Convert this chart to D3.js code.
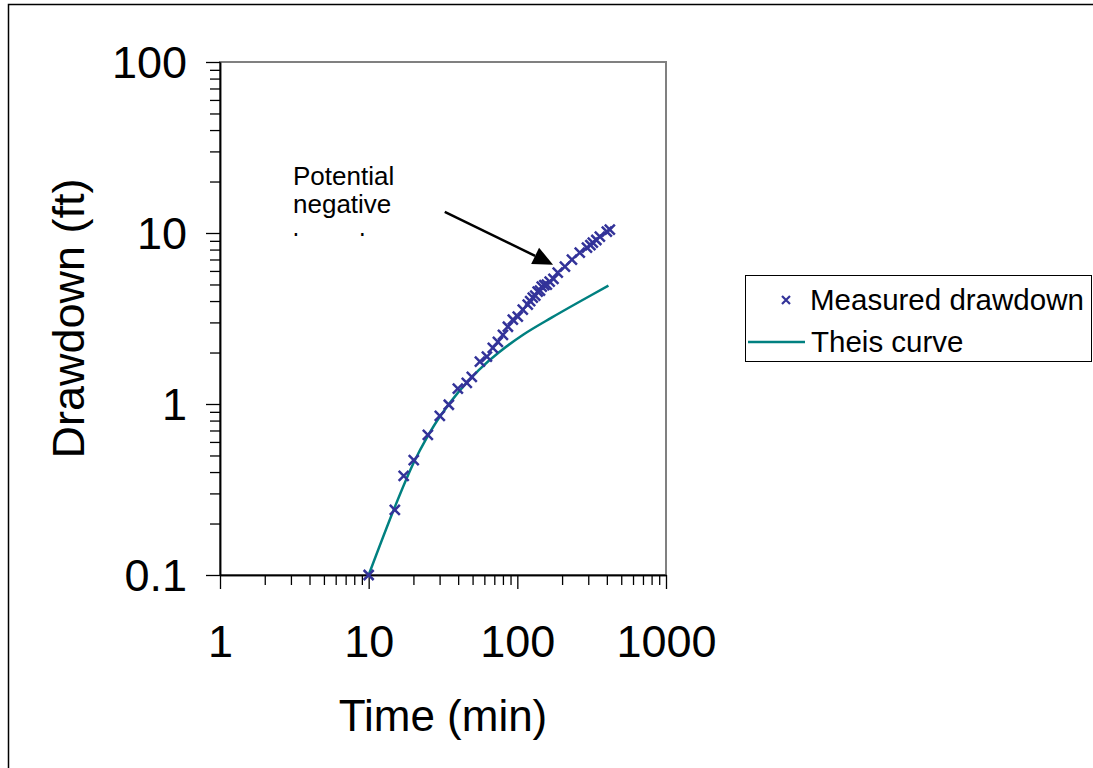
<!DOCTYPE html>
<html>
<head>
<meta charset="utf-8">
<script src="https://cdn.jsdelivr.net/npm/d3@7"></script>
<style>
  html, body { margin: 0; padding: 0; background: #fff; }
  svg { display: block; font-family: "Liberation Sans", Arial, Helvetica, sans-serif; }
</style>
</head>
<body>
<svg id="chart" width="1093" height="768"></svg>
<script>
// ---- Data ----
const measuredTime = [10, 15, 17.2, 20.1, 25, 30.1, 34.6, 39.8, 45.7, 49.4, 56, 62.4, 68.4, 74, 80, 86.4, 93.3, 100.7, 108.8, 117.5, 122, 127, 132, 137, 142, 146, 152, 158, 165, 175, 187, 209, 233, 263, 294, 310, 322, 340, 359, 400, 419];
const measuredDrawdown = [0.1, 0.24, 0.38, 0.47, 0.66, 0.853, 0.99, 1.23, 1.33, 1.44, 1.77, 1.89, 2.13, 2.31, 2.54, 2.83, 3.11, 3.24, 3.56, 3.81, 4.0, 4.19, 4.3, 4.54, 4.6, 4.86, 4.95, 4.99, 5.19, 5.4, 5.86, 6.35, 6.98, 7.67, 8.22, 8.5, 8.79, 9.1, 9.53, 10.2, 10.45];
const theisTime = [10, 15, 20, 25, 30, 40, 55, 75, 110, 170, 260, 410];
const theisDrawdown = [0.1, 0.25, 0.45, 0.65, 0.84, 1.17, 1.58, 2.0, 2.55, 3.2, 3.95, 4.92];
const xMajorTicks = [1, 10, 100, 1000];
const yMajorTicks = [0.1, 1, 10, 100];
const xTickLabels = ["1", "10", "100", "1000"];
const yTickLabels = ["0.1", "1", "10", "100"];
const seriesNames = ["Measured drawdown", "Theis curve"];
const annotationLines = ["Potential", "negative", "boundary"];

// ---- Setup ----
const svg = d3.select("#chart");
const W = 1093, H = 768;
const plot = { left: 220, right: 666, top: 62, bottom: 575 };
const markerColor = "#333399";
const curveColor = "#008080";
const font = '"Liberation Sans", Arial, Helvetica, sans-serif';

svg.append("rect").attr("width", W).attr("height", H).attr("fill", "#fff");
// outer chart border (continues past the visible window)
svg.append("rect").attr("x", 8.5).attr("y", 4.5).attr("width", 1300).attr("height", 1000)
  .attr("fill", "none").attr("stroke", "#000").attr("stroke-width", 1.5);

const x = d3.scaleLog().domain([1, 1000]).range([plot.left, plot.right]);
const y = d3.scaleLog().domain([0.1, 100]).range([plot.bottom, plot.top]);

// plot area border (grey)
svg.append("rect")
  .attr("x", plot.left).attr("y", plot.top)
  .attr("width", plot.right - plot.left).attr("height", plot.bottom - plot.top)
  .attr("fill", "none").attr("stroke", "#808080").attr("stroke-width", 2);

// minor tick values
const xMinor = [], yMinor = [];
for (const d of [1, 10, 100]) for (let k = 2; k <= 9; k++) xMinor.push(d * k);
for (const d of [0.1, 1, 10]) for (let k = 2; k <= 9; k++) yMinor.push(d * k);

// ---- X axis ----
const xMinorAxis = d3.axisBottom(x).tickValues(xMinor).tickSize(10).tickSizeOuter(0).tickFormat("");
const gxm = svg.append("g").attr("transform", `translate(0,${plot.bottom})`).call(xMinorAxis);
const xMajorAxis = d3.axisBottom(x).tickValues(xMajorTicks).tickSize(14).tickSizeOuter(0)
  .tickPadding(36).tickFormat((d, i) => xTickLabels[i]);
const gx = svg.append("g").attr("transform", `translate(0,${plot.bottom})`).call(xMajorAxis);
[gxm, gx].forEach(g => {
  g.selectAll(".domain").attr("stroke", "#000").attr("stroke-width", 1.5);
  g.selectAll(".tick line").attr("stroke", "#000").attr("stroke-width", 1.3);
});
gx.selectAll("text").attr("font-size", 45).attr("font-family", font).attr("fill", "#000");

// ---- Y axis ----
const yMinorAxis = d3.axisLeft(y).tickValues(yMinor).tickSize(10).tickSizeOuter(0).tickFormat("");
const gym = svg.append("g").attr("transform", `translate(${plot.left},0)`).call(yMinorAxis);
const yMajorAxis = d3.axisLeft(y).tickValues(yMajorTicks).tickSize(14).tickSizeOuter(0)
  .tickPadding(19).tickFormat((d, i) => yTickLabels[i]);
const gy = svg.append("g").attr("transform", `translate(${plot.left},0)`).call(yMajorAxis);
[gym, gy].forEach(g => {
  g.selectAll(".domain").attr("stroke", "#000").attr("stroke-width", 1.5);
  g.selectAll(".tick line").attr("stroke", "#000").attr("stroke-width", 1.3);
});
gy.selectAll("text").attr("font-size", 45).attr("font-family", font).attr("fill", "#000").attr("dy", "0.34em");

// ---- Axis titles ----
svg.append("text")
  .attr("x", (plot.left + plot.right) / 2).attr("y", 731)
  .attr("text-anchor", "middle").attr("font-size", 44).attr("font-family", font)
  .text("Time (min)");
svg.append("text")
  .attr("transform", `translate(84,${(plot.top + plot.bottom) / 2}) rotate(-90)`)
  .attr("text-anchor", "middle").attr("font-size", 45).attr("font-family", font)
  .text("Drawdown (ft)");

// ---- Theis curve ----
const theis = theisTime.map((t, i) => [t, theisDrawdown[i]]);
svg.append("path")
  .datum(theis)
  .attr("fill", "none").attr("stroke", curveColor).attr("stroke-width", 2.5)
  .attr("d", d3.line().x(d => x(d[0])).y(d => y(d[1])).curve(d3.curveCatmullRom.alpha(0.5)));

// ---- Measured markers ----
const cross = (s) => `M${-s},${-s}L${s},${s}M${-s},${s}L${s},${-s}`;
const measured = measuredTime.map((t, i) => [t, measuredDrawdown[i]]);
svg.append("g").selectAll("path.m")
  .data(measured).join("path")
  .attr("class", "m")
  .attr("transform", d => `translate(${x(d[0])},${y(d[1])})`)
  .attr("d", cross(5))
  .attr("fill", "none").attr("stroke", markerColor).attr("stroke-width", 2.5);

// ---- Annotation ----
svg.append("defs").append("clipPath").attr("id", "annClip")
  .append("rect").attr("x", 0).attr("y", 0).attr("width", W).attr("height", 236);
const ann = svg.append("g").attr("clip-path", "url(#annClip)");
const annX = 293;
const annBaselines = [185, 213, 252];
annotationLines.forEach((txt, i) => {
  ann.append("text").attr("x", annX).attr("y", annBaselines[i])
    .attr("font-size", 26).attr("font-family", font).attr("fill", "#000").text(txt);
});

// arrow (positioned in data space)
const arrowFrom = [32.5, 13.3], arrowTo = [174, 6.53];
const ax0 = x(arrowFrom[0]), ay0 = y(arrowFrom[1]);
const ax1 = x(arrowTo[0]), ay1 = y(arrowTo[1]);
const ang = Math.atan2(ay1 - ay0, ax1 - ax0);
const headLen = 20, headW = 9;
const bx = ax1 - headLen * Math.cos(ang), by = ay1 - headLen * Math.sin(ang);
svg.append("line").attr("x1", ax0).attr("y1", ay0).attr("x2", bx).attr("y2", by)
  .attr("stroke", "#000").attr("stroke-width", 2.5);
svg.append("path")
  .attr("d", `M${ax1},${ay1}L${bx + headW * Math.sin(ang)},${by - headW * Math.cos(ang)}L${bx - headW * Math.sin(ang)},${by + headW * Math.cos(ang)}Z`)
  .attr("fill", "#000");

// ---- Legend ----
const lg = svg.append("g");
lg.append("rect").attr("x", 745.5).attr("y", 275.5).attr("width", 346).attr("height", 86)
  .attr("fill", "#fff").attr("stroke", "#000").attr("stroke-width", 1);
lg.append("path").attr("transform", "translate(786,300)").attr("d", cross(4))
  .attr("fill", "none").attr("stroke", markerColor).attr("stroke-width", 2.2);
lg.append("text").attr("x", 810).attr("y", 310).attr("font-size", 29.5).attr("font-family", font)
  .text(seriesNames[0]);
lg.append("line").attr("x1", 748).attr("x2", 805).attr("y1", 342).attr("y2", 342)
  .attr("stroke", curveColor).attr("stroke-width", 2.5);
lg.append("text").attr("x", 811).attr("y", 352).attr("font-size", 29.5).attr("font-family", font)
  .text(seriesNames[1]);
</script>
</body>
</html>
